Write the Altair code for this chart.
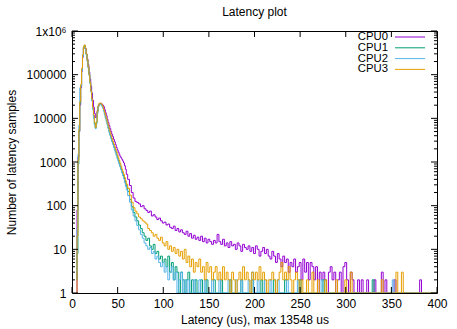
import altair as alt
import pandas as pd

FONT = "Liberation Sans"
cpus = ["CPU0", "CPU1", "CPU2", "CPU3"]
colors = ["#9400d3", "#009e73", "#56b4e9", "#e69f00"]

# 1-us bins from 5 to 60 us, then 2-us bins from 62 to 400 us
head_us = list(range(5, 61))
tail_us = list(range(62, 401, 2))

cpu0_head = [1, 80, 1300, 5000, 20000, 50000, 120000, 250000, 400000, 460000,
             400000, 300000, 230000, 170000, 115000, 80000, 55000, 38000, 26000, 18000,
             13000, 10500, 11000, 15000, 19000, 21000, 22000, 22000, 21000, 20000,
             18500, 16000, 13500, 11500, 9500, 8000, 6800, 5800, 5000, 4300,
             3800, 3300, 2900, 2500, 2150, 1900, 1700, 1500, 1350, 1250,
             1150, 1050, 950, 820, 680, 520]
cpu1_head = [2, 8, 900, 5000, 22000, 55000, 130000, 270000, 420000, 470000,
             390000, 290000, 210000, 150000, 100000, 65000, 42000, 27000, 17000, 11000,
             7500, 6000, 8000, 14000, 19000, 21000, 22000, 21000, 19500, 17500,
             15000, 12500, 10500, 8800, 7300, 6000, 5000, 4200, 3500, 3000,
             2600, 2250, 1950, 1700, 1450, 1250, 1080, 930, 800, 690,
             600, 520, 450, 380, 320, 270]
cpu2_head = [3, 30, 1500, 7000, 50000, 55000, 125000, 260000, 410000, 460000,
             380000, 280000, 200000, 140000, 95000, 62000, 40000, 25000, 16000, 10000,
             7000, 5800, 7500, 13000, 18500, 21000, 21500, 20500, 19000, 17000,
             14500, 12000, 10000, 8400, 7000, 5700, 4700, 4000, 3400, 2900,
             2500, 2150, 1850, 1600, 1380, 1180, 1020, 880, 760, 650,
             560, 480, 410, 340, 280, 230]
cpu3_head = [1, 20, 1100, 5500, 24000, 60000, 140000, 290000, 440000, 480000,
             400000, 300000, 215000, 150000, 100000, 66000, 43000, 28000, 18000, 12000,
             8000, 6200, 8200, 14500, 19500, 22000, 22500, 22000, 20500, 18500,
             16000, 13500, 11500, 9700, 8100, 6800, 5700, 4800, 4100, 3500,
             3000, 2600, 2250, 1950, 1700, 1450, 1250, 1080, 930, 800,
             690, 600, 520, 440, 370, 310]

cpu0_tail = [400, 290, 200, 150, 125, 118, 110, 95, 100, 85,
             78, 70, 75, 58, 62, 55, 48, 52, 45, 40,
             42, 36, 38, 32, 30, 34, 27, 30, 25, 28,
             24, 22, 26, 20, 23, 18, 21, 17, 19, 16,
             20, 15, 18, 14, 17, 15, 13, 16, 14, 22,
             15, 13, 17, 12, 14, 11, 15, 12, 13, 10,
             14, 12, 9, 13, 11, 10, 12, 9, 11, 8,
             12, 10, 7, 9, 11, 8, 10, 7, 6, 9,
             7, 5, 8, 6, 4, 7, 5, 6, 3, 5,
             4, 6, 3, 4, 5, 2, 6, 3, 5, 2,
             5, 4, 2, 4, 1, 3, 2, 3, 2, 1,
             3, 4, 2, 3, 1, 2, 3, 1, 4, 5,
             2, 1, 3, 2, 1, 1, 2, 1, 2, 1,
             1, 2, 1, 1, 1, 2, 1, 1, 1, 3,
             1, 2, 1, 1, 1, 1, 2, 1, 1, 1,
             1, 1, 1, 1, 1, 1, 1, 1, 1, 1,
             2, 1, 1, 1, 1, 1, 1, 1, 1, 1]
cpu1_tail = [210, 140, 95, 70, 55, 45, 36, 30, 24, 20,
             16, 18, 12, 10, 13, 8, 9, 6, 7, 5,
             6, 4, 7, 3, 5, 2, 4, 3, 1, 3,
             2, 1, 2, 3, 1, 2, 1, 2, 1, 1,
             2, 1, 1, 2, 1, 1, 1, 2, 1, 1,
             1, 2, 1, 1, 1, 1, 2, 1, 1, 1,
             1, 1, 2, 1, 1, 1, 1, 1, 2, 1,
             1, 1, 1, 2, 1, 1, 1, 1, 1, 1,
             2, 1, 1, 1, 1, 1, 2, 1, 1, 1,
             1, 1, 1, 1, 2, 1, 1, 1, 1, 1,
             1, 1, 1, 1, 1, 1, 1, 2, 1, 1,
             1, 1, 1, 1, 1, 1, 1, 1, 1, 1,
             1, 1, 1, 1, 1, 1, 1, 1, 1, 1,
             1, 1, 1, 1, 2, 1, 1, 1, 1, 1,
             1, 1, 1, 1, 1, 1, 1, 1, 1, 1,
             1, 1, 1, 1, 1, 1, 1, 1, 1, 1,
             1, 1, 1, 1, 1, 1, 1, 1, 1, 1]
cpu2_tail = [170, 120, 80, 58, 45, 35, 28, 22, 18, 14,
             12, 10, 11, 8, 9, 6, 7, 5, 4, 5,
             3, 4, 2, 3, 4, 2, 3, 1, 2, 3,
             1, 2, 1, 2, 1, 1, 2, 1, 1, 2,
             1, 1, 2, 1, 1, 1, 2, 1, 1, 1,
             2, 1, 1, 1, 1, 2, 1, 1, 1, 2,
             1, 1, 2, 1, 1, 1, 2, 1, 3, 1,
             1, 2, 1, 1, 1, 2, 1, 1, 2, 1,
             1, 1, 2, 1, 1, 1, 1, 2, 1, 1,
             1, 1, 1, 2, 1, 1, 1, 1, 1, 1,
             1, 1, 1, 1, 1, 1, 2, 1, 1, 1,
             1, 1, 1, 1, 1, 1, 1, 1, 1, 1,
             1, 1, 1, 1, 1, 1, 1, 1, 1, 1,
             1, 1, 1, 1, 1, 1, 1, 1, 1, 1,
             1, 1, 1, 1, 1, 2, 1, 1, 1, 1,
             1, 1, 1, 1, 1, 1, 1, 1, 1, 1,
             1, 1, 1, 1, 1, 1, 1, 1, 1, 1]
cpu3_tail = [250, 175, 120, 90, 75, 65, 55, 50, 45, 42,
             38, 30, 27, 24, 20, 22, 18, 16, 19, 14,
             12, 15, 10, 12, 9, 11, 8, 10, 7, 9,
             6, 10, 5, 7, 4, 6, 3, 5, 4, 6,
             3, 4, 2, 5, 3, 4, 2, 3, 4, 2,
             3, 2, 4, 2, 3, 2, 1, 3, 2, 1,
             2, 3, 2, 4, 2, 3, 2, 1, 3, 2,
             3, 2, 4, 2, 3, 2, 1, 2, 2, 3,
             2, 1, 2, 3, 5, 2, 3, 2, 4, 2,
             1, 2, 3, 2, 1, 2, 1, 1, 2, 1,
             1, 3, 1, 1, 2, 1, 1, 1, 2, 1,
             1, 1, 1, 1, 2, 1, 1, 1, 1, 2,
             1, 1, 3, 1, 1, 1, 1, 1, 1, 1,
             1, 1, 1, 1, 1, 1, 1, 1, 1, 2,
             1, 1, 1, 1, 1, 1, 1, 3, 1, 1,
             3, 1, 1, 1, 1, 1, 1, 1, 1, 1,
             1, 1, 1, 1, 1, 1, 1, 1, 1, 1]

x_ticks = [0, 50, 100, 150, 200, 250, 300, 350, 400]
y_major = [1, 10, 100, 1000, 10000, 100000, 1000000]
y_minor = [m * d for d in y_major[:-1] for m in range(2, 10)]

heads = [cpu0_head, cpu1_head, cpu2_head, cpu3_head]
tails = [cpu0_tail, cpu1_tail, cpu2_tail, cpu3_tail]
rows = []
for name, h, t in zip(cpus, heads, tails):
    for u, v in zip(head_us + tail_us, h + t):
        rows.append({"cpu": name, "us": u, "count": v})
df = pd.DataFrame(rows)

W, H = 365, 262
xscale = alt.Scale(domain=[0, 400], nice=False, zero=False)
yscale = alt.Scale(type="log", domain=[1, 1000000], nice=False)

lines = alt.Chart(df).mark_line(interpolate="step", strokeWidth=1, clip=True).encode(
    x=alt.X("us:Q", scale=xscale,
            axis=alt.Axis(values=x_ticks, ticks=False, domain=False, grid=False,
                          labelFont=FONT, labelFontSize=12, labelColor="black",
                          labelPadding=5, labelFlush=False,
                          title="Latency (us), max 13548 us", titleFont=FONT,
                          titleFontSize=12, titleFontWeight="normal", titleColor="black",
                          titleX=W / 2, titleY=26, titleBaseline="middle")),
    y=alt.Y("count:Q", scale=yscale,
            axis=alt.Axis(values=y_major, ticks=False, domain=False, grid=False,
                          labelExpr="datum.value >= 1000000 ? '1x10⁶' : format(datum.value, 'd')",
                          labelFont=FONT, labelFontSize=12, labelColor="black",
                          labelPadding=6, labelFlush=False,
                          title="Number of latency samples", titleFont=FONT,
                          titleFontSize=12, titleFontWeight="normal", titleColor="black",
                          titleX=-61, titleY=H / 2, titleAngle=-90,
                          titleBaseline="middle", titleAlign="center")),
    color=alt.Color("cpu:N", scale=alt.Scale(domain=cpus, range=colors), legend=None),
)

layers = [lines]

xt = pd.DataFrame({"v": x_ticks})
for y0, y1 in [(H, H - 6), (0, 6)]:
    layers.append(alt.Chart(xt).mark_rule(color="black", strokeWidth=1).encode(
        x=alt.X("v:Q", scale=xscale, axis=None), y=alt.value(y0), y2=alt.value(y1)))

ymj = pd.DataFrame({"v": y_major})
ymn = pd.DataFrame({"v": y_minor})
for data, size in [(ymj, 6), (ymn, 3)]:
    for x0, x1 in [(0, size), (W, W - size)]:
        layers.append(alt.Chart(data).mark_rule(color="black", strokeWidth=1).encode(
            y=alt.Y("v:Q", scale=yscale, axis=None), x=alt.value(x0), x2=alt.value(x1)))

# gnuplot-style key in the top right corner
for i, (name, col) in enumerate(zip(cpus, colors)):
    yy = 6 + i * 10.8
    ld = pd.DataFrame({"t": [name]})
    layers.append(alt.Chart(ld).mark_text(align="right", baseline="middle", font=FONT,
                                          fontSize=11.3, color="black").encode(
        text="t:N", x=alt.value(316), y=alt.value(yy)))
    layers.append(alt.Chart(ld).mark_rule(color=col, strokeWidth=1).encode(
        x=alt.value(323), x2=alt.value(353), y=alt.value(yy)))

chart = alt.layer(*layers).properties(
    width=W, height=H,
    title=alt.TitleParams("Latency plot", font=FONT, fontSize=12, fontWeight="normal",
                          color="black", anchor="middle", frame="group", offset=6),
    autosize=alt.AutoSizeParams(type="none"),
    padding={"left": 72, "top": 31, "right": 20, "bottom": 36},
    background="white",
).resolve_axis(x="independent", y="independent").configure_view(
    stroke="black", strokeWidth=1)

chart.save("out.html", embed_options={"renderer": "svg", "actions": False})
